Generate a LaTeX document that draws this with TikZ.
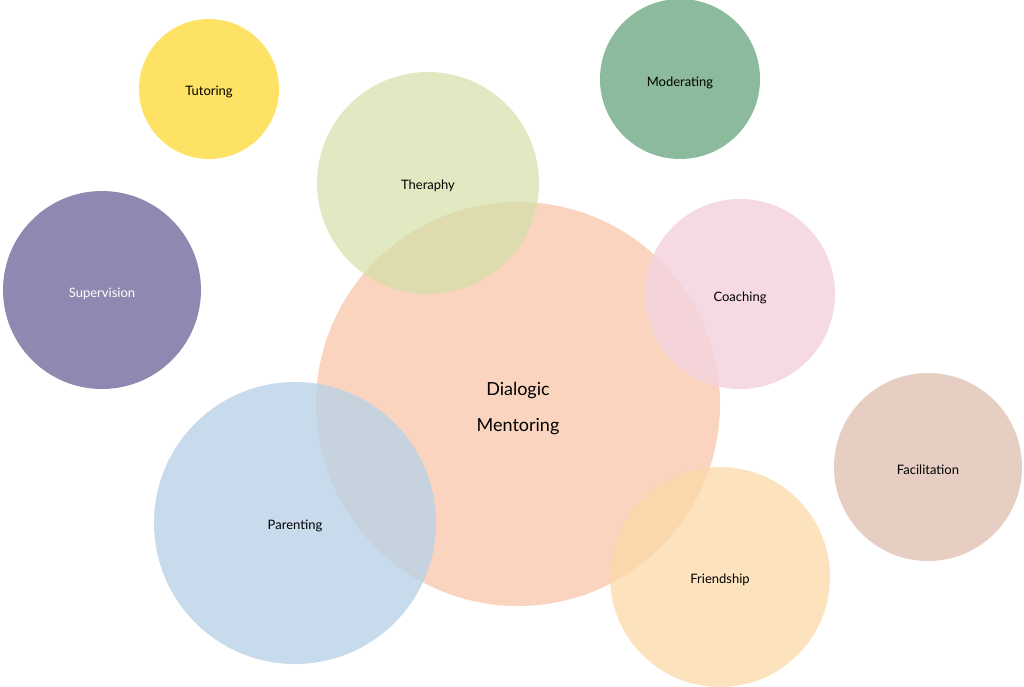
\documentclass[tikz,border=0pt]{standalone}
\usepackage{fontspec}
\setmainfont{Lato}
\usepackage{xcolor}
\definecolor{cTutor}{HTML}{FDE265}
\definecolor{cModer}{HTML}{8BBB9C}
\definecolor{cThera}{HTML}{D3E0A8}
\definecolor{cSuper}{HTML}{8F89B1}
\definecolor{cCoach}{HTML}{F3D3DF}
\definecolor{cMentor}{HTML}{F6B893}
\definecolor{cFacil}{HTML}{E7CEC2}
\definecolor{cParent}{HTML}{BAD2E7}
\definecolor{cFriend}{HTML}{FBD9A8}
\begin{document}
\begin{tikzpicture}[x=1pt,y=-1pt,
  bubble/.style={circle,inner sep=0pt,font=\fontsize{13}{15}\selectfont},
  label/.style={font=\fontsize{13}{15}\selectfont,inner sep=0.75pt}]
\useasboundingbox (0,0) rectangle (1024,686);

% Circles
\fill[cTutor] (209,89) circle (70);
\fill[cModer] (680,79) circle (80);
\fill[cSuper] (102,290) circle (99);
\fill[cFacil] (928,467) circle (94);
\fill[cMentor,opacity=0.6] (518,404) circle (202);
\fill[cThera,opacity=0.7] (428,183) circle (111);
\fill[cCoach,opacity=0.85] (740,294) circle (95);
\fill[cParent,opacity=0.8] (295,523) circle (141);
\fill[cFriend,opacity=0.75] (720,577) circle (110);

% Text Nodes
\node[label] (tutoring) at (209,92) {Tutoring};
\node[label] (moderating) at (680,83) {Moderating};
\node[label] (theraphy) at (428,186) {Theraphy};
\node[label,white] (supervision) at (102,294) {Supervision};
\node[label] (coaching) at (740,298) {Coaching};
\node[label,align=center,font=\fontsize{18}{36}\selectfont] (mentoring) at (518,409) {Dialogic\\Mentoring};
\node[label] (facilitation) at (928,470) {Facilitation};
\node[label] (parenting) at (295,526) {Parenting};
\node[label] (friendship) at (720,580) {Friendship};
\end{tikzpicture}
\end{document}
